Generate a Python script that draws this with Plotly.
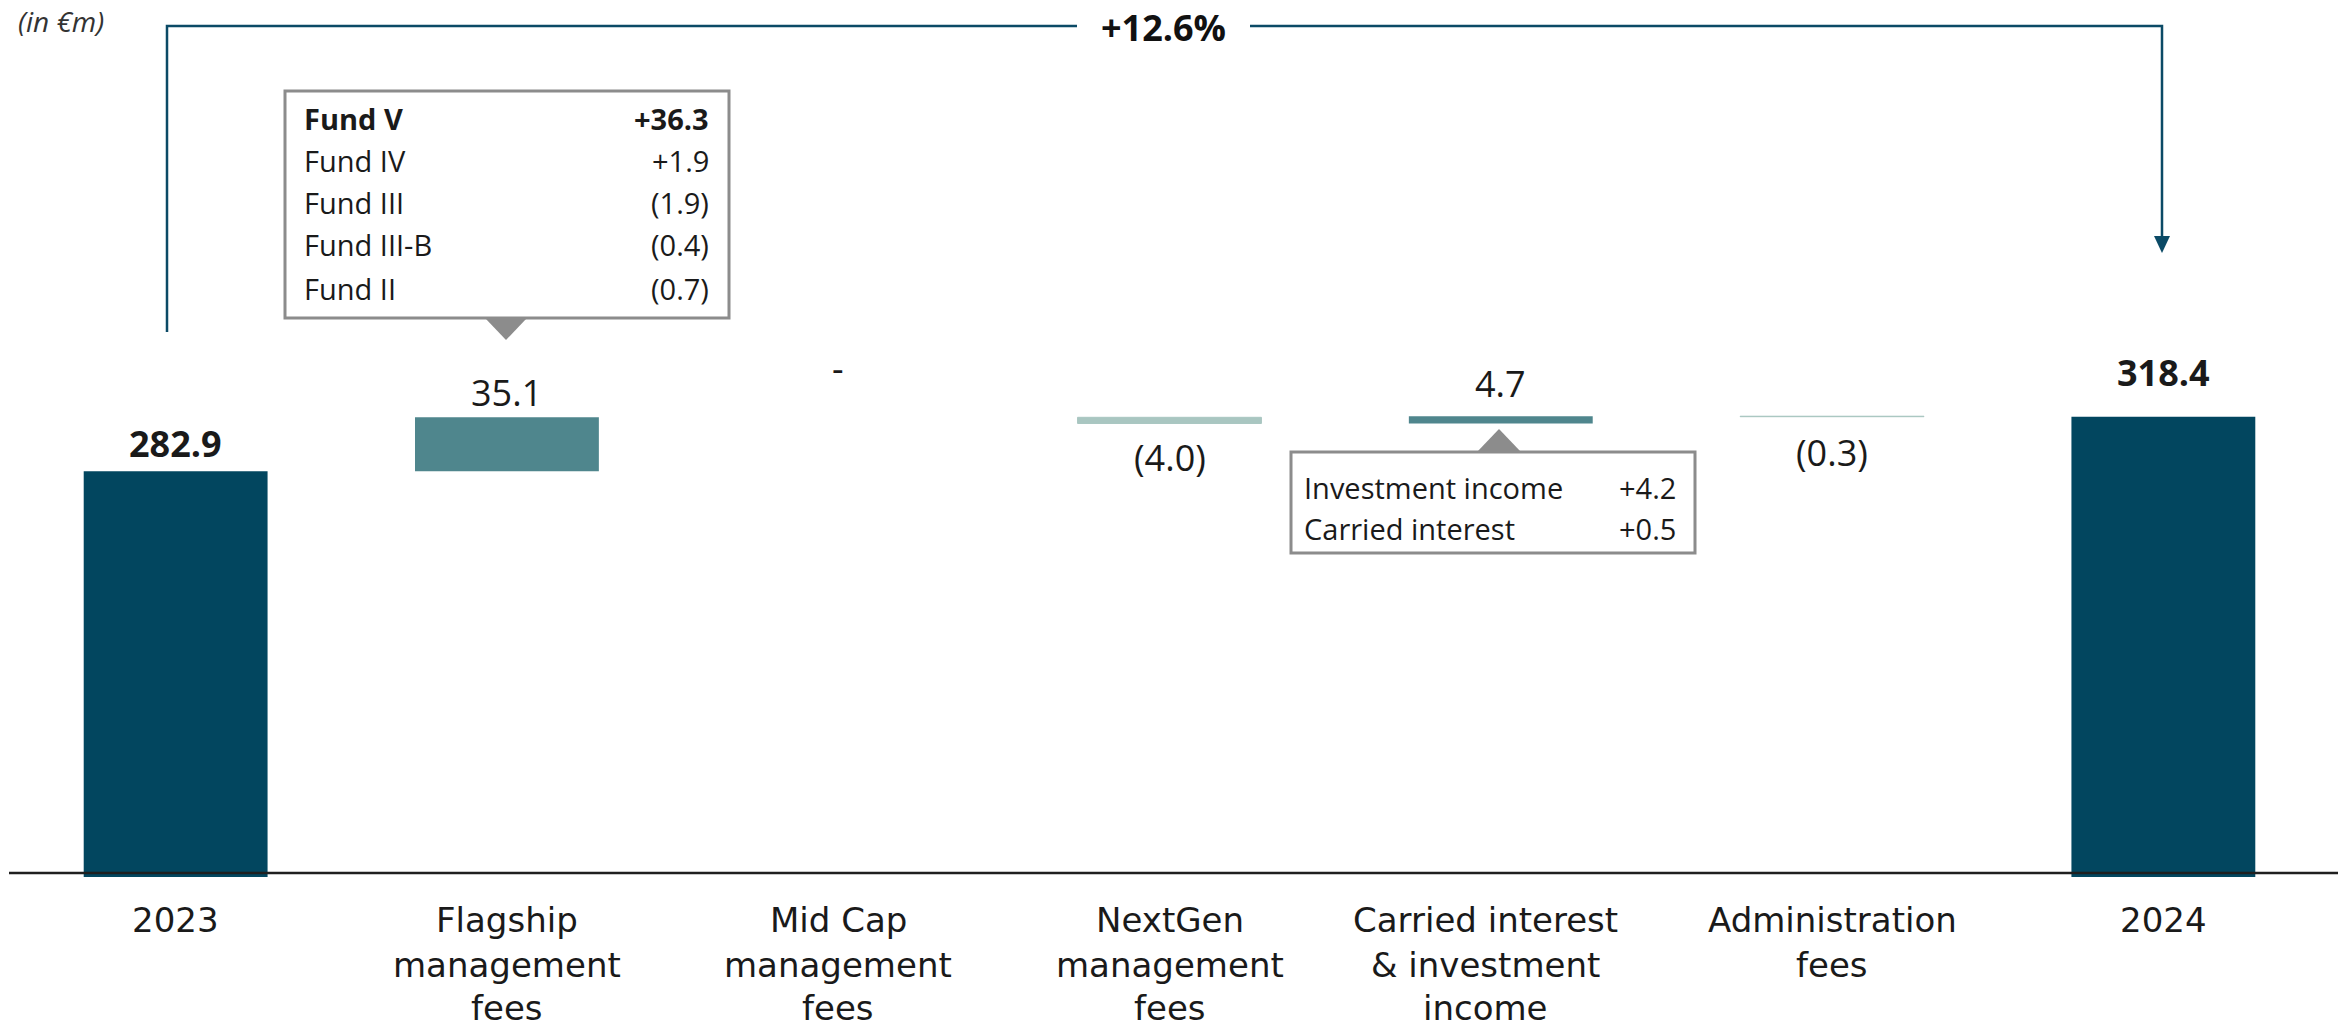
import plotly.graph_objects as go

# ---- data -------------------------------------------------------------
categories = ["2023", "Flagship", "Mid Cap", "NextGen", "Carried", "Admin", "2024"]
category_labels = [
    ["2023"],
    ["Flagship", "management", "fees"],
    ["Mid Cap", "management", "fees"],
    ["NextGen", "management", "fees"],
    ["Carried interest", "& investment", "income"],
    ["Administration", "fees"],
    ["2024"],
]
values = [282.9, 35.1, 0.0, -4.0, 4.7, -0.3, 318.4]
measures = ["absolute", "relative", "relative", "relative", "relative", "relative", "total"]

fund_names = ["Fund V", "Fund IV", "Fund III", "Fund III-B", "Fund II"]
fund_deltas = [36.3, 1.9, -1.9, -0.4, -0.7]

carry_names = ["Investment income", "Carried interest"]
carry_deltas = [4.2, 0.5]

growth_label = "+12.6%"

# ---- styling ----------------------------------------------------------
FONT = "Open Sans"
LABEL_FONT = "DejaVu Sans"
TXT = "#1a1a1a"
C_TOTAL = "#02465F"
C_UP = "#4F868D"
C_DOWN = "#A9C6C1"
C_BOX = "#8C8C8C"
C_ARROW = "#0B4A66"

W, H = 2338, 1031
L, R, T, B = 10, 9, 0, 154
PLOT_W = W - L - R
PLOT_H = H - T - B
PX_PER_UNIT = 1.54
Y0 = 19.5
Y_RANGE = [Y0, Y0 + PLOT_H / PX_PER_UNIT]


def px(xp):
    """page pixel x -> paper fraction"""
    return (xp - L) / PLOT_W


def py(yp):
    """page pixel y -> paper fraction"""
    return (T + PLOT_H - yp) / PLOT_H


def fmt_delta(v):
    if v == 0:
        return "-"
    return f"{v:.1f}" if v > 0 else f"({abs(v):.1f})"


def fmt_signed(v):
    return f"+{v:.1f}" if v >= 0 else f"({abs(v):.1f})"


fig = go.Figure(
    go.Waterfall(
        x=list(range(len(categories))),
        y=values,
        measure=measures,
        width=0.555,
        textposition="none",
        hoverinfo="skip",
        connector=dict(visible=False),
        increasing=dict(marker=dict(color=C_UP)),
        decreasing=dict(marker=dict(color=C_DOWN, line=dict(color=C_DOWN, width=1))),
        totals=dict(marker=dict(color=C_TOTAL)),
    )
)

annotations = []

# running level at the end of each bar
ends = []
running = 0.0
for v, m in zip(values, measures):
    if m == "absolute":
        running = v
    elif m == "relative":
        running = running + v
    ends.append(running)

# value labels
label_shift = [28, 25, 49, -34, 33, -36, 44]
for i, (v, m) in enumerate(zip(values, measures)):
    if m in ("absolute", "total"):
        text = f"<b>{v:.1f}</b>"
    else:
        text = fmt_delta(v)
    annotations.append(dict(
        x=i, y=ends[i], xref="x", yref="y", text=text, showarrow=False,
        yanchor="middle", yshift=label_shift[i],
        font=dict(family=FONT, size=36, color=TXT),
    ))

# category labels under the axis, one line per annotation
LINE_Y = [920, 965, 1008]
LABEL_XSHIFT = [0, 0, 0, 0, -15, 0, 0]
for i, lines in enumerate(category_labels):
    for k, line in enumerate(lines):
        annotations.append(dict(
            x=i, y=py(LINE_Y[k]), xref="x", yref="paper", text=line, showarrow=False,
            yanchor="middle", align="center", xshift=LABEL_XSHIFT[i], borderpad=0,
            font=dict(family=LABEL_FONT, size=34, color=TXT),
        ))

# unit note
annotations.append(dict(
    x=px(16), y=py(21), xref="paper", yref="paper", text="<i>(in €m)</i>",
    showarrow=False, xanchor="left", yanchor="middle",
    font=dict(family=FONT, size=28, color="#333333"),
))

# growth label on the bracket
annotations.append(dict(
    x=px(1163), y=py(28), xref="paper", yref="paper", text=f"<b>{growth_label}</b>",
    showarrow=False, xanchor="center", yanchor="middle",
    font=dict(family=FONT, size=36, color="#111111"),
))

shapes = []


def callout(x0, x1, y0, y1, tip_x, tip_y, base_y, half_w, names, deltas, left_x, right_x, row_y, bold_first):
    shapes.append(dict(type="rect", xref="paper", yref="paper",
                       x0=px(x0), x1=px(x1), y0=py(y1), y1=py(y0),
                       line=dict(color=C_BOX, width=3), fillcolor="white", layer="above"))
    shapes.append(dict(type="path", xref="paper", yref="paper",
                       path=f"M {px(tip_x - half_w)} {py(base_y)} L {px(tip_x + half_w)} {py(base_y)} "
                            f"L {px(tip_x)} {py(tip_y)} Z",
                       line=dict(color=C_BOX, width=0), fillcolor=C_BOX, layer="above"))
    for k, (n, d) in enumerate(zip(names, deltas)):
        b = bold_first and k == 0
        nt = f"<b>{n}</b>" if b else n
        dt = f"<b>{fmt_signed(d)}</b>" if b else fmt_signed(d)
        yy = py(row_y[k])
        annotations.append(dict(x=px(left_x), y=yy, xref="paper", yref="paper", text=nt,
                                showarrow=False, xanchor="left", yanchor="middle",
                                font=dict(family=FONT, size=29, color=TXT)))
        annotations.append(dict(x=px(right_x), y=yy, xref="paper", yref="paper", text=dt,
                                showarrow=False, xanchor="right", yanchor="middle",
                                font=dict(family=FONT, size=29, color=TXT)))


# fund breakdown above the flagship bar
callout(285, 729, 91, 318, 506, 340, 318, 21, fund_names, fund_deltas,
        302, 711, [118, 160, 203, 245, 288], True)
# carried interest / investment income breakdown
callout(1291, 1695, 452, 553, 1499, 429, 452, 22, carry_names, carry_deltas,
        1302, 1678, [487, 528], False)

# growth bracket from 2023 to 2024
shapes.append(dict(type="path", xref="paper", yref="paper",
                   path=f"M {px(167)} {py(332)} L {px(167)} {py(26)} L {px(1077)} {py(26)}",
                   line=dict(color=C_ARROW, width=2.5)))
shapes.append(dict(type="path", xref="paper", yref="paper",
                   path=f"M {px(1250)} {py(26)} L {px(2162)} {py(26)} L {px(2162)} {py(240)}",
                   line=dict(color=C_ARROW, width=2.5)))
shapes.append(dict(type="path", xref="paper", yref="paper",
                   path=f"M {px(2154)} {py(236)} L {px(2170)} {py(236)} L {px(2162)} {py(253)} Z",
                   line=dict(color=C_ARROW, width=0), fillcolor=C_ARROW))

# baseline
shapes.append(dict(type="line", xref="paper", yref="paper",
                   x0=px(9), x1=px(2338), y0=py(873), y1=py(873),
                   line=dict(color="#1f1f1f", width=2.5), layer="above"))

fig.update_layout(
    width=W, height=H,
    margin=dict(l=L, r=R, t=T, b=B, pad=0),
    paper_bgcolor="white", plot_bgcolor="white",
    showlegend=False,
    xaxis=dict(type="linear", range=[-0.5, 6.5], showticklabels=False, showgrid=False,
               zeroline=False, showline=False, ticks="", automargin=False, fixedrange=True),
    yaxis=dict(range=Y_RANGE, showticklabels=False, showgrid=False, zeroline=False,
               showline=False, ticks="", automargin=False, fixedrange=True),
    annotations=annotations,
    shapes=shapes,
    font=dict(family=FONT, color=TXT),
)

fig.write_html("out.html")
